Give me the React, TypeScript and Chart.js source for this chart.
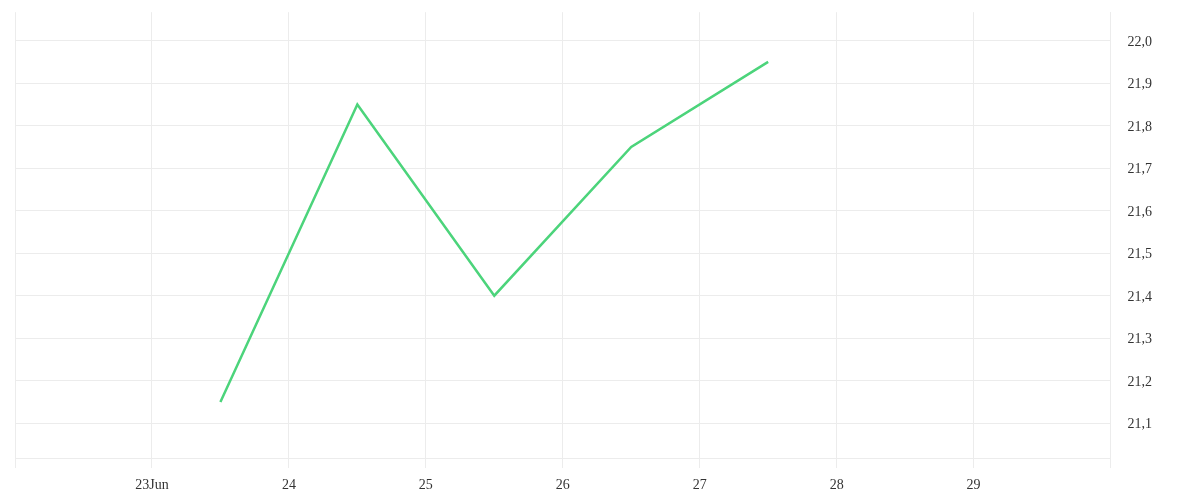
import React, { useEffect, useRef } from 'react'
import { Chart, registerables } from 'chart.js'

Chart.register(...registerables)

// readings, taken at midday (day of June)
const pointDays = [23.5, 24.5, 25.5, 26.5, 27.5]
const pointValues = [21.15, 21.85, 21.4, 21.75, 21.95]

// x axis runs 22 Jun .. 30 Jun, labels only on the inner days
const xTickDays = [22, 23, 24, 25, 26, 27, 28, 29, 30]
const xTickLabels = ['', '23Jun', '24', '25', '26', '27', '28', '29', '']

const yTickValues = [21.1, 21.2, 21.3, 21.4, 21.5, 21.6, 21.7, 21.8, 21.9, 22.0]
const yMin = 21.018
const yMax = 22.067

const GRID = '#ececec'
const TEXT = '#333333'
const FAMILY = '"Liberation Serif", serif'

const App: React.FC = () => {
  const canvasRef = useRef<HTMLCanvasElement | null>(null)

  useEffect(() => {
    if (!canvasRef.current) return
    const ctx = canvasRef.current.getContext('2d')
    if (!ctx) return

    const chart = new Chart(ctx, {
      type: 'line',
      data: {
        datasets: [
          {
            data: pointDays.map((d, i) => ({ x: d, y: pointValues[i] })),
            borderColor: '#4cd47b',
            borderWidth: 2.5,
            pointRadius: 0,
            tension: 0,
            fill: false,
          },
        ],
      },
      options: {
        animation: false,
        responsive: true,
        maintainAspectRatio: false,
        layout: { padding: { left: 7, top: 4, right: 40, bottom: 0 } },
        plugins: {
          legend: { display: false },
          tooltip: { enabled: false },
        },
        scales: {
          x: {
            type: 'linear',
            min: xTickDays[0],
            max: xTickDays[xTickDays.length - 1],
            afterBuildTicks: (scale) => {
              scale.ticks = xTickDays.map((v) => ({ value: v }))
            },
            afterFit: (scale) => {
              // fixed axis band, no sideways padding from the labels
              scale.height = 34
              scale.paddingLeft = 0
              scale.paddingRight = 0
            },
            grid: { color: GRID, tickLength: 10, drawTicks: true },
            border: { display: true, color: GRID },
            ticks: {
              color: TEXT,
              font: { family: FAMILY, size: 14 },
              padding: 9,
              maxRotation: 0,
              autoSkip: false,
              callback: (v) => xTickLabels[xTickDays.indexOf(Number(v))] ?? '',
            },
          },
          y: {
            type: 'linear',
            position: 'right',
            min: yMin,
            max: yMax,
            afterBuildTicks: (scale) => {
              scale.ticks = yTickValues.map((v) => ({ value: v }))
            },
            grid: {
              color: GRID,
              drawTicks: true,
              tickLength: 17,
              tickColor: 'rgba(0,0,0,0)',
            },
            border: { display: true, color: GRID },
            ticks: {
              color: TEXT,
              font: { family: FAMILY, size: 14, lineHeight: 0.6 },
              padding: 0,
              labelOffset: 1.5,
              callback: (v) => Number(v).toFixed(1).replace('.', ','),
            },
          },
        },
      },
    })

    return () => {
      chart.destroy()
    }
  }, [])

  return (
    <div style={{ width: 1184, height: 484, position: 'relative' }}>
      <canvas ref={canvasRef}></canvas>
    </div>
  )
}

export default App
